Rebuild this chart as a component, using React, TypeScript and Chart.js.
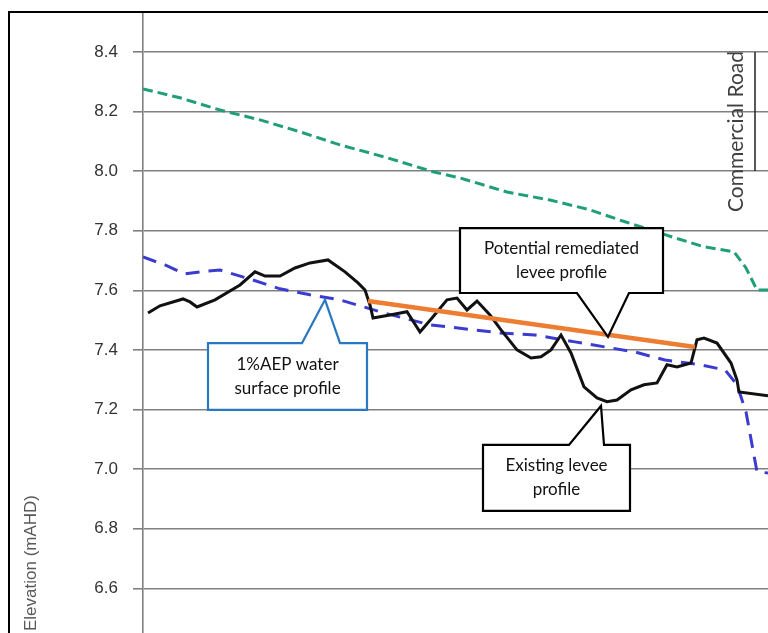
import React, { useEffect, useRef } from "react";
import { Chart, registerables } from "chart.js";

Chart.register(...registerables);

// ---- Data (chainage in m, elevation in mAHD) ----
const crestChainage = [0, 14.8, 30.8, 46.8, 62.8, 78.8, 96.4, 116.4, 126.8, 145.6, 162.8, 178.8, 192.8, 212.8, 224.4, 236.4, 241.2, 245.6, 250];
const crestLevel = [8.276, 8.246, 8.205, 8.172, 8.132, 8.088, 8.048, 7.997, 7.977, 7.93, 7.903, 7.87, 7.83, 7.776, 7.746, 7.729, 7.675, 7.601, 7.601];

const waterChainage = [0, 8.8, 16.8, 22.8, 30.8, 42.8, 54.8, 66.8, 78.8, 86.8, 96.4, 114.8, 132.8, 142.8, 156.8, 172.8, 184.8, 196.8, 208.8, 222.8, 232.8, 237.6, 241.2, 245.6, 250];
const waterLevel = [7.712, 7.685, 7.655, 7.662, 7.668, 7.638, 7.605, 7.585, 7.568, 7.548, 7.524, 7.484, 7.467, 7.457, 7.45, 7.427, 7.41, 7.393, 7.366, 7.35, 7.333, 7.283, 7.192, 6.991, 6.987];

const existingChainage = [2, 6.8, 16, 18.8, 21.6, 28.8, 38.8, 44.8, 48.8, 54.8, 60.8, 66.8, 74, 80.8, 86, 88.8, 90.8, 92, 98.8, 105.6, 110.8, 115.6, 121.6, 125.6, 129.6, 133.6, 138.8, 143.2, 149.6, 155.2, 159.2, 163.2, 167.2, 171.2, 176.4, 181.6, 185.6, 189.6, 195.2, 200.4, 205.6, 209.6, 213.6, 219.2, 221.6, 224.4, 229.6, 235.2, 237.6, 238.4, 250];
const existingLevel = [7.524, 7.548, 7.571, 7.561, 7.544, 7.568, 7.618, 7.662, 7.648, 7.648, 7.675, 7.692, 7.702, 7.662, 7.625, 7.601, 7.551, 7.507, 7.517, 7.528, 7.46, 7.507, 7.568, 7.574, 7.534, 7.564, 7.517, 7.467, 7.4, 7.373, 7.377, 7.4, 7.45, 7.39, 7.276, 7.239, 7.226, 7.232, 7.266, 7.283, 7.289, 7.35, 7.343, 7.356, 7.434, 7.44, 7.423, 7.356, 7.299, 7.259, 7.246];

const remediatedChainage = [90, 220.8];
const remediatedLevel = [7.564, 7.41];

const roadChainage = [244.8, 244.8];
const roadLevel = [8.4, 8.0];
const roadLabel = "Commercial Road";

const yMin = 6.45;
const yMax = 8.534;
const yStep = 0.2;
const yTitle = "Elevation (mAHD)";

type Callout = {
  lines: string[];
  x0: number; x1: number; y0: number; y1: number;
  base0: number; base1: number; tipX: number; tipY: number;
  tail: "top" | "bottom";
  color: string;
};

const callouts: Callout[] = [
  { lines: ["Potential remediated", "levee profile"], x0: 126.8, x1: 208, y0: 7.809, y1: 7.591, base0: 173.6, base1: 194.4, tipX: 186, tipY: 7.444, tail: "bottom", color: "#000000" },
  { lines: ["1%AEP water", "surface profile"], x0: 26, x1: 89.6, y0: 7.423, y1: 7.199, base0: 63.6, base1: 78.8, tipX: 72.8, tipY: 7.568, tail: "top", color: "#2a78c2" },
  { lines: ["Existing levee", "profile"], x0: 136, x1: 194.8, y0: 7.081, y1: 6.86, base0: 170.4, base1: 184.4, tipX: 183.2, tipY: 7.212, tail: "top", color: "#000000" },
];

const zip = (xs: number[], ys: number[]) => xs.map((x, i) => ({ x, y: ys[i] }));

const overlayPlugin = {
  id: "overlay",
  afterDatasetsDraw(chart: any) {
    const { ctx, scales } = chart;
    const xs = scales.x;
    const ys = scales.y;
    ctx.save();
    // Commercial Road label
    const rx = xs.getPixelForValue(237.2);
    const ry = ys.getPixelForValue(8.133);
    ctx.translate(rx, ry);
    ctx.rotate(-Math.PI / 2);
    ctx.fillStyle = "#404040";
    ctx.font = "21px Lato";
    ctx.textAlign = "center";
    ctx.textBaseline = "middle";
    ctx.fillText(roadLabel, 0, 0);
    ctx.restore();

    for (const c of callouts) {
      const L = xs.getPixelForValue(c.x0);
      const R = xs.getPixelForValue(c.x1);
      const T = ys.getPixelForValue(c.y0);
      const B = ys.getPixelForValue(c.y1);
      const b0 = xs.getPixelForValue(c.base0);
      const b1 = xs.getPixelForValue(c.base1);
      const tx = xs.getPixelForValue(c.tipX);
      const ty = ys.getPixelForValue(c.tipY);
      ctx.save();
      ctx.beginPath();
      if (c.tail === "top") {
        ctx.moveTo(L, T);
        ctx.lineTo(b0, T);
        ctx.lineTo(tx, ty);
        ctx.lineTo(b1, T);
        ctx.lineTo(R, T);
        ctx.lineTo(R, B);
        ctx.lineTo(L, B);
      } else {
        ctx.moveTo(L, T);
        ctx.lineTo(R, T);
        ctx.lineTo(R, B);
        ctx.lineTo(b1, B);
        ctx.lineTo(tx, ty);
        ctx.lineTo(b0, B);
        ctx.lineTo(L, B);
      }
      ctx.closePath();
      ctx.fillStyle = "#ffffff";
      ctx.fill();
      ctx.lineWidth = 2.2;
      ctx.lineJoin = "miter";
      ctx.strokeStyle = c.color;
      ctx.stroke();
      ctx.fillStyle = "#111111";
      ctx.font = "17px Lato";
      ctx.textAlign = "center";
      ctx.textBaseline = "middle";
      const cx = (L + R) / 2;
      const cy = (T + B) / 2;
      const n = c.lines.length;
      c.lines.forEach((t, i) => ctx.fillText(t, cx, cy + (i - (n - 1) / 2) * 24));
      ctx.restore();
    }
  },
  afterDraw(chart: any) {
    const { ctx, width, height } = chart;
    ctx.save();
    // axis title
    ctx.translate(31, 563);
    ctx.rotate(-Math.PI / 2);
    ctx.fillStyle = "#595959";
    ctx.font = "17px 'Liberation Sans'";
    ctx.textAlign = "center";
    ctx.textBaseline = "middle";
    ctx.fillText(yTitle, 0, 0);
    ctx.restore();
    // outer frame
    ctx.save();
    ctx.fillStyle = "#000000";
    ctx.fillRect(8, 11, 2, height);
    ctx.fillRect(8, 11, width, 2);
    ctx.restore();
  },
};

export default function App() {
  const ref = useRef<HTMLCanvasElement | null>(null);
  useEffect(() => {
    if (!ref.current) return;
    const chart = new Chart(ref.current, {
      type: "line",
      data: {
        datasets: [
          { label: "Remediated", data: zip(remediatedChainage, remediatedLevel), borderColor: "#ed7d31", borderWidth: 4.5, pointRadius: 0, borderCapStyle: "butt" },
          { label: "Existing levee", data: zip(existingChainage, existingLevel), borderColor: "#111111", borderWidth: 3, pointRadius: 0, tension: 0 },
          { label: "1%AEP", data: zip(waterChainage, waterLevel), borderColor: "#3b3bd0", borderWidth: 3, borderDash: [14, 9], pointRadius: 0 },
          { label: "Crest", data: zip(crestChainage, crestLevel), borderColor: "#1f9e78", borderWidth: 3, borderDash: [10, 5], pointRadius: 0 },
          { label: "Road", data: zip(roadChainage, roadLevel), borderColor: "#222222", borderWidth: 1.5, pointRadius: 0 },
        ],
      },
      options: {
        responsive: false,
        animation: false,
        layout: { padding: { top: 12, left: 0, right: 0, bottom: 0 } },
        plugins: { legend: { display: false }, tooltip: { enabled: false }, title: { display: false } },
        scales: {
          x: { type: "linear", min: 0, max: 250, display: false },
          y: {
            type: "linear",
            min: yMin,
            max: yMax,
            ticks: {
              stepSize: yStep,
              includeBounds: false,
              padding: 15,
              color: "#333333",
              font: { size: 17, family: "'Liberation Sans'" },
              callback: (v: any) => Number(v).toFixed(1),
            },
            grid: { color: "#808080", lineWidth: 1.6, tickLength: 10, drawTicks: true },
            border: { display: true, color: "#808080", width: 1.6 },
            afterFit: (s: any) => {
              s.width = 143;
              s.paddingTop = 0;
              s.paddingBottom = 0;
            },
          },
        },
      },
      plugins: [overlayPlugin],
    } as any);
    return () => chart.destroy();
  }, []);
  return (
    <div style={{ position: "fixed", left: 0, top: 0, width: 768, height: 633, overflow: "hidden", background: "#fff" }}>
      <canvas ref={ref} width={768} height={633} style={{ display: "block" }} />
    </div>
  );
}
